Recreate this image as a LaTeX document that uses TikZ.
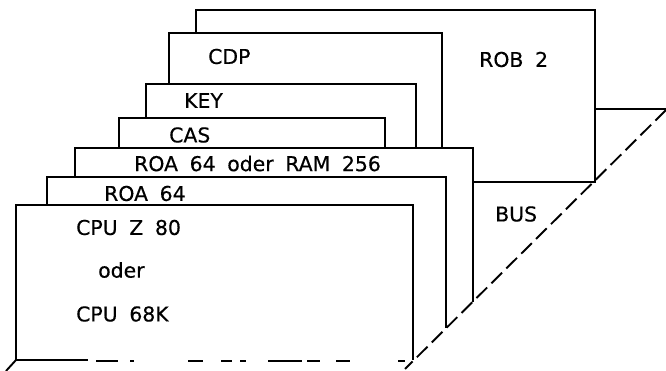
\documentclass[tikz,border=0pt]{standalone}
\usepackage{fontspec}
\setmainfont[WordSpace=1.8,FakeBold=0.4]{DejaVu Sans}
\tikzset{
  card/.style={draw=black,line width=1.9pt,line join=miter},
  frag/.style={draw=black,line width=1.3pt},
  lbl/.style={inner sep=0pt,anchor=west,text=black,font=\fontsize{20.4}{20.4}\selectfont},
  busline/.style={draw=black,line width=1.9pt,dash pattern=on 15pt off 6pt}
}
\begin{document}
\begin{tikzpicture}[x=1pt,y=-1pt]
\useasboundingbox[fill=white] (0,0) rectangle (666,371);
% edges of the cards, back to front
\draw[card] (473,182) -- (595,182) -- (595,10) -- (196,10) -- (196,33);
\draw[card] (595,109) -- (666,109);
\draw[card] (169,84) -- (169,33) -- (442,33) -- (442,148);
\draw[card] (146,118) -- (146,84) -- (416,84) -- (416,148);
\draw[card] (119,148) -- (119,118) -- (385,118) -- (385,148);
\draw[card] (75,177) -- (75,148) -- (473,148) -- (473,302);
\draw[card] (47,205) -- (47,177) -- (446,177) -- (446,328);
\draw[card] (16,360) -- (16,205) -- (413,205) -- (413,360);
% broken bottom edge of the front card
\draw[card] (16,360) -- (88,360);
\draw[frag] (96,361) -- (118,361) (130,361) -- (134,361)
  (188,361) -- (203,361) (221,361) -- (232,361) (240,361) -- (246,361)
  (268,361) -- (302,361) (307,361) -- (320,361) (336,361) -- (350,361) (398,361) -- (405,361);
% bus outline
\draw[busline] (666,110) -- (405,369);
\draw[card] (16,360) -- (6,371);
% labels
\node[lbl] (cdp) at (208,56.5) {CDP};
\node[lbl] (rob) at (479,59.5) {ROB 2};
\node[lbl] (key) at (184,100.5) {KEY};
\node[lbl] (cas) at (169,135) {CAS};
\node[lbl] (roa) at (134,163.5) {ROA 64 oder RAM 256};
\node[lbl] (roas) at (104,193.5) {ROA 64};
\node[lbl] (cpua) at (76,227.5) {CPU Z 80};
\node[lbl] (oder) at (98,270) {oder};
\node[lbl] (cpub) at (76,314) {CPU 68K};
\node[lbl] (bus) at (495,214) {BUS};
\end{tikzpicture}
\end{document}
